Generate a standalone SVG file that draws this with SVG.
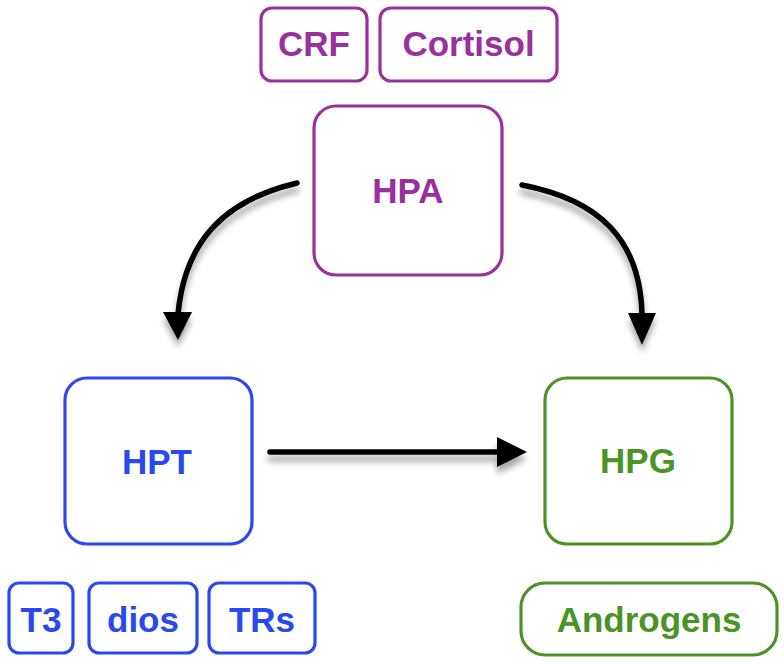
<svg xmlns="http://www.w3.org/2000/svg" width="784" height="664" viewBox="0 0 784 664">
<defs>
<filter id="sh" x="-20%" y="-20%" width="140%" height="160%">
<feGaussianBlur in="SourceAlpha" stdDeviation="3"/>
<feOffset dx="0" dy="7" result="b"/>
<feComponentTransfer><feFuncA type="linear" slope="0.35"/></feComponentTransfer>
<feMerge><feMergeNode/><feMergeNode in="SourceGraphic"/></feMerge>
</filter>
</defs>
<style>
rect{fill:#fff;stroke-width:3.2}
text{font-family:"Liberation Sans",Arial,sans-serif;font-weight:bold;font-size:35px;text-anchor:middle}
.p rect{stroke:#9a2f9e}.p text{fill:#9a2f9e}
.b rect{stroke:#2a48f0}.b text{fill:#2a48f0}
.g rect{stroke:#4c9326}.g text{fill:#4c9326}
.c path{fill:none;stroke:#000;stroke-width:5.5;stroke-linecap:round}
.c polygon{fill:#000}
</style>
<g class="c" id="connectors" filter="url(#sh)">
<path d="M297,183 C225,200 185,240 178,314"/>
<polygon points="163,312 192,312 178,340"/>
<path d="M522,185 C600,200 640,240 642,314"/>
<polygon points="628,313 656,313 642,345"/>
<path d="M270,452 L500,452"/>
<polygon points="497,437 497,467 527,452"/>
</g>
<g id="crf" class="p"><rect x="261" y="8" width="106" height="73" rx="11"/><text x="314" y="56">CRF</text></g>
<g id="cortisol" class="p"><rect x="380" y="8" width="177" height="73" rx="11"/><text x="468.5" y="56">Cortisol</text></g>
<g id="hpa" class="p"><rect x="314" y="106" width="188" height="169" rx="22"/><text x="408" y="203">HPA</text></g>
<g id="hpt" class="b"><rect x="65" y="378" width="187" height="166" rx="22"/><text x="157" y="474">HPT</text></g>
<g id="hpg" class="g"><rect x="545" y="378" width="187" height="166" rx="22"/><text x="638" y="473">HPG</text></g>
<g id="t3" class="b"><rect x="9" y="583" width="64" height="70" rx="10"/><text x="41" y="632">T3</text></g>
<g id="dios" class="b"><rect x="89" y="583" width="108" height="70" rx="10"/><text x="143" y="632">dios</text></g>
<g id="trs" class="b"><rect x="209" y="583" width="106" height="70" rx="10"/><text x="262" y="632">TRs</text></g>
<g id="androgens" class="g"><rect x="521" y="583" width="256" height="72" rx="24"/><text x="649" y="632">Androgens</text></g>
</svg>
